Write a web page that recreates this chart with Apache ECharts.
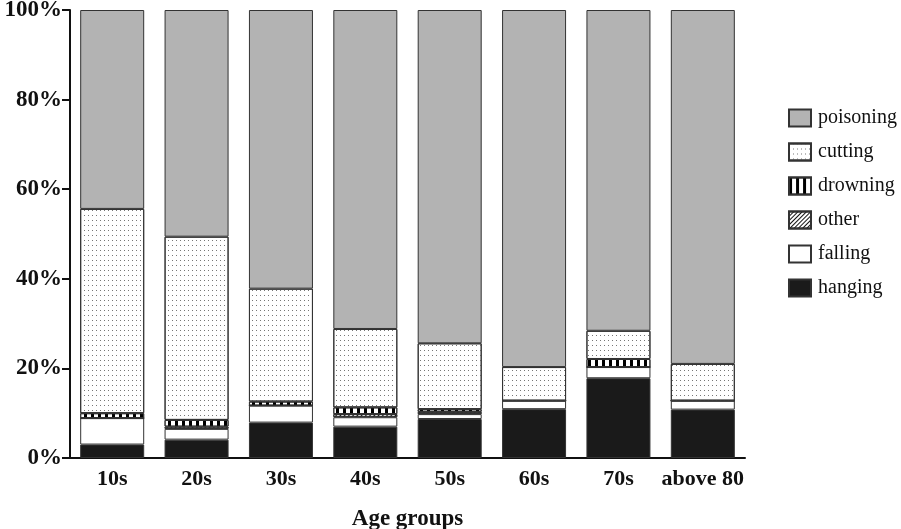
<!DOCTYPE html>
<html><head><meta charset="utf-8">
<script src="https://cdn.jsdelivr.net/npm/echarts@6/dist/echarts.min.js"></script>
<style>html,body{margin:0;padding:0;background:#fff}#c{width:901px;height:529px}</style>
</head><body><div id="c"></div>
<script>
var categories = ['10s','20s','30s','40s','50s','60s','70s','above 80'];
var hanging   = [3.0, 4.1, 7.9, 7.0, 8.7, 10.9, 17.8, 10.8];
var falling   = [5.9, 2.4, 3.8, 2.1, 1.1, 1.9, 2.5, 2.0];
var other     = [0, 0.5, 0, 0.7, 0.5, 0, 0, 0];
var drowning  = [1.1, 1.5, 0.9, 1.5, 0.6, 0, 1.8, 0];
var cutting   = [45.6, 40.9, 25.2, 17.5, 14.7, 7.5, 6.3, 8.2];
var poisoning = [44.4, 50.6, 62.2, 71.2, 74.4, 79.7, 71.6, 79.0];
var yTicks = [0, 20, 40, 60, 80, 100];

var serif = '"Liberation Serif","Times New Roman",serif';
var border = {borderColor:'#333', borderWidth:1};
function s(name, data, color, decal){
  var st = Object.assign({color:color}, border);
  if (decal) st.decal = decal;
  return {name:name, type:'bar', stack:'all', data:data, barWidth:64, itemStyle:st,
          emphasis:{disabled:true}};
}
var chart = echarts.init(document.getElementById('c'), null, {renderer:'canvas'});
chart.setOption({
  animation:false,
  grid:{left:70, right:156, top:10, bottom:71, containLabel:false, outerBoundsMode:'none'},
  legend:{
    orient:'vertical', left:783, top:103, itemWidth:22, itemHeight:17, itemGap:14,
    icon:'rect',
    data:['poisoning','cutting','drowning','other','falling','hanging'],
    textStyle:{fontFamily:serif, fontSize:20, color:'#111', padding:[0,0,0,2]}
  },
  xAxis:{
    type:'category', data:categories,
    name:'Age groups', nameLocation:'middle', nameGap:50,
    nameTextStyle:{fontFamily:serif, fontSize:23, fontWeight:'bold', color:'#111'},
    axisLine:{lineStyle:{color:'#111', width:2}},
    axisTick:{alignWithLabel:true, length:8, lineStyle:{width:2, color:'#111'}},
    axisLabel:{interval:0, fontFamily:serif, fontSize:22, fontWeight:'bold', color:'#111', margin:10}
  },
  yAxis:{
    type:'value', min:yTicks[0], max:yTicks[yTicks.length-1], interval:20,
    axisLine:{show:true, lineStyle:{color:'#111', width:2}},
    axisTick:{show:true, length:8, lineStyle:{width:2, color:'#111'}},
    splitLine:{show:false},
    axisLabel:{formatter:'{value}%', fontFamily:serif, fontSize:23, fontWeight:'bold', color:'#111', margin:8}
  },
  series:[
    s('hanging', hanging, '#1a1a1a'),
    s('falling', falling, '#ffffff'),
    s('other', other, '#ffffff', {symbol:'rect', symbolSize:1, dashArrayX:[1,0], dashArrayY:[1,2], rotation:-Math.PI/4, color:'#111'}),
    s('drowning', drowning, '#ffffff', {symbol:'rect', symbolSize:1, dashArrayX:[3,4], dashArrayY:[10,0], rotation:0, color:'#000'}),
    s('cutting', cutting, '#ffffff', {symbol:'rect', symbolSize:1, dashArrayX:[1,3], dashArrayY:[1,4], rotation:0, color:'#777'}),
    s('poisoning', poisoning, '#b3b3b3')
  ]
});
</script></body></html>
